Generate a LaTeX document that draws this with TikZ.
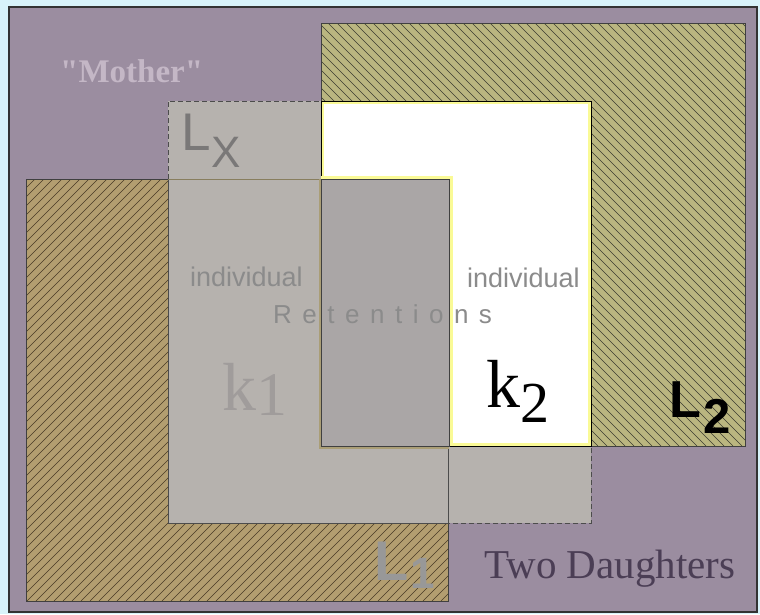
\documentclass[tikz,border=0pt]{standalone}
\usepackage{fontspec}
\setmainfont{Liberation Serif}
\setsansfont{Liberation Sans}
\newfontfamily\rawserif{Liberation Serif}
\definecolor{bgcyan}{RGB}{216,243,250}
\definecolor{motherfill}{RGB}{155,141,160}
\definecolor{ltwofill}{RGB}{186,182,128}
\definecolor{lonefill}{RGB}{179,158,112}
\definecolor{hatchtwo}{RGB}{60,60,48}
\definecolor{hatchone}{RGB}{72,58,38}
\definecolor{lxgray}{RGB}{182,178,174}
\definecolor{innergray}{RGB}{170,166,166}
\definecolor{mothertext}{RGB}{196,183,198}
\definecolor{daughtertext}{RGB}{75,62,85}
\definecolor{labelgray}{RGB}{139,139,139}
\definecolor{lxtext}{RGB}{122,120,120}
\definecolor{kone}{RGB}{160,156,155}
\definecolor{lonetext}{RGB}{152,152,152}
\definecolor{glowyellow}{RGB}{250,250,150}
\definecolor{tanband}{RGB}{170,158,118}
\begin{document}
\begin{tikzpicture}[x=1pt,y=-1pt,
  edge/.style={draw=black!75, line width=0.8pt},
  hatchline/.style={line width=0.5pt},
  lxborder/.style={draw=black!70, line width=0.9pt, dash pattern=on 5pt off 3pt},
  txt/.style={inner sep=0pt, anchor=base west}]
\useasboundingbox (0,0) rectangle (760,614);
\fill[bgcyan] (0,0) rectangle (760,614);
% mother
\fill[motherfill] (9,7) rectangle (757,612);
\draw[black!80, line width=1.4pt] (9,7) rectangle (757,612);
% L2
\fill[ltwofill] (321,23) rectangle (745,446);
\begin{scope}
  \clip (321,23) rectangle (745,446);
  \foreach \c in {-127,-118,...,730}
    \draw[hatchline, hatchtwo] (\c+23,23) -- (\c+446,446);
\end{scope}
\draw[edge] (321,23) rectangle (745,446);
% L1
\fill[lonefill] (26,179) rectangle (448,601);
\begin{scope}
  \clip (26,179) rectangle (448,601);
  \foreach \c in {205,214,...,1055}
    \draw[hatchline, hatchone] (\c-601,601) -- (\c-179,179);
\end{scope}
\draw[edge] (26,179) rectangle (448,601);
% Lx
\fill[lxgray] (168,101) rectangle (591,523);
\draw[lxborder] (168,179) -- (168,101) -- (591,101) -- (591,523) -- (448,523);
\draw[black!70, line width=0.8pt] (168,179) -- (168,523) -- (448,523) -- (448,446);
\draw[tanband!80!black, line width=0.8pt] (168,179) -- (321,179);
% white region k2
\fill[white] (321,101) rectangle (591,446);
\begin{scope}
  \clip (321,101) rectangle (591,446);
  \draw[glowyellow, line width=6pt] (321,101) rectangle (591,446);
\end{scope}
\draw[black, line width=0.8pt] (321,101) rectangle (591,446);
% retention rectangle
\draw[glowyellow, line width=7pt] (321,179) -- (449,179) -- (449,446);
\draw[tanband, line width=5pt] (321,179) -- (321,446) -- (449,446);
\fill[innergray] (321,179) rectangle (449,446);
\draw[black!75, line width=0.9pt] (321,179) rectangle (449,446);
% texts
\node[txt, text=mothertext, font=\rawserif\bfseries\fontsize{33}{33}\selectfont] (mother) at (60,82) {"Mother"};
\node[txt, text=lxtext, font=\sffamily] (lx) at (181,150) {\fontsize{53}{53}\selectfont L\kern1pt\raisebox{-17pt}{\fontsize{44}{44}\selectfont X}};
\node[txt, text=labelgray, font=\sffamily\fontsize{27}{27}\selectfont] (indone) at (190,286) {individual};
\node[txt, text=labelgray, font=\sffamily\fontsize{27}{27}\selectfont] (indtwo) at (467,287) {individual};
\node[txt, text=labelgray, font=\sffamily\fontsize{26}{26}\selectfont] (ret) at (273,323) {R\hspace{10.5pt}e\hspace{10.5pt}t\hspace{10.5pt}e\hspace{10.5pt}n\hspace{10.5pt}t\hspace{10.5pt}i\hspace{10.5pt}o\hspace{10.5pt}n\hspace{10.5pt}s};
\node[txt, text=kone] (kone) at (222,410) {\fontsize{68}{68}\selectfont k\raisebox{-5pt}{\fontsize{62}{62}\selectfont 1}};
\node[txt, text=black] (ktwo) at (486,407) {\fontsize{68}{68}\selectfont k\raisebox{-15pt}{\fontsize{58}{58}\selectfont 2}};
\node[txt, text=black, font=\sffamily\bfseries] (ltwo) at (669,417) {\fontsize{52}{52}\selectfont L\kern3pt\raisebox{-16pt}{\fontsize{49}{49}\selectfont 2}};
\node[txt, text=lonetext, font=\sffamily\bfseries] (lone) at (374,580) {\fontsize{56}{56}\selectfont L\kern2pt\raisebox{-8pt}{\fontsize{44}{44}\selectfont 1}};
\node[txt, text=daughtertext, font=\fontsize{41}{41}\selectfont] (daughters) at (484,578) {Two Daughters};
\end{tikzpicture}
\end{document}
